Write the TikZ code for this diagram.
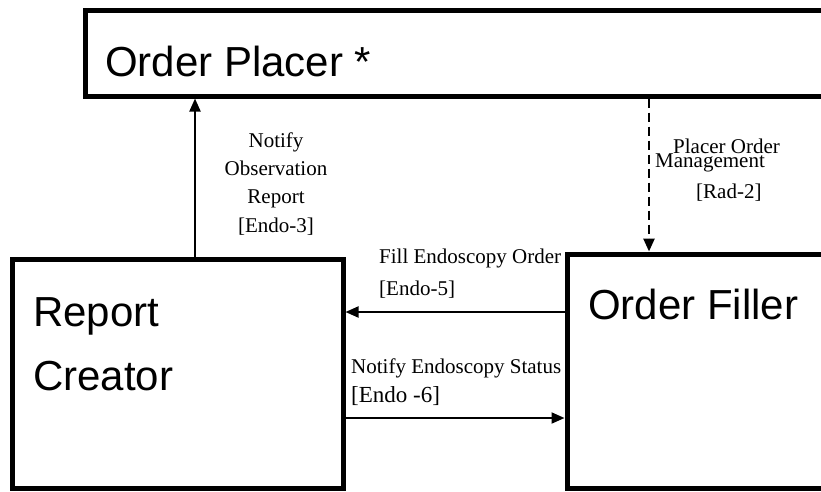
\documentclass[tikz,border=0pt]{standalone}
\usepackage{fontspec}
\setmainfont{Liberation Serif}
\newfontfamily\arialf{Liberation Sans}
\usetikzlibrary{arrows.meta}
\tikzset{
  box/.style={draw, line width=5pt, outer sep=2.5pt, inner sep=0pt, anchor=north west},
  big/.style={font=\arialf\fontsize{42}{50}\selectfont, inner sep=0pt, anchor=base west},
  small/.style={font=\fontsize{21}{25}\selectfont, inner sep=0pt, anchor=base west},
  smallc/.style={font=\fontsize{21}{25}\selectfont, inner sep=0pt, anchor=base},
  arr/.style={line width=2pt, -{Triangle[length=13pt,width=11pt]}},
  darr/.style={line width=2.5pt, dash pattern=on 9pt off 5pt, -{Triangle[length=13pt,width=11pt]}}
}
\begin{document}
\begin{tikzpicture}[x=1pt,y=1pt]
\clip (0,0) rectangle (821,-491);
\fill[white] (0,0) rectangle (821,-491);
% boxes
\node[box, minimum width=815pt, minimum height=86pt] (placer) at (82.5,-7.5) {};
\node[box, minimum width=331pt, minimum height=229pt] (rc) at (9.5,-256.5) {};
\node[box, minimum width=333pt, minimum height=234pt] (of) at (564.5,-251.5) {};
% box texts
\node[big] (tplacer) at (105,-76) {Order Placer *};
\node[big] (trc1) at (33,-326) {Report};
\node[big] (trc2) at (33,-390) {Creator};
\node[big] (tof) at (588,-319) {Order Filler};
% connector x / y positions
\coordinate (xa) at (195,0);
\coordinate (xb) at (649,0);
\coordinate (ya) at (0,-312);
\coordinate (yb) at (0,-418);
% connectors
\draw[arr] (xa |- rc.north) -- (xa |- placer.south);
\draw[darr] (xb |- placer.south) -- (xb |- of.north);
\draw[arr] (of.west |- ya) -- (rc.east |- ya);
\draw[arr] (rc.east |- yb) -- (of.west |- yb);
% labels
\node[smallc] (l1a) at (276,-147) {Notify};
\node[smallc] (l1b) at (276,-175) {Observation};
\node[smallc] (l1c) at (276,-203) {Report};
\node[smallc] (l1d) at (276,-232) {[Endo-3]};
\node[small] (l2a) at (673,-153) {Placer Order};
\node[small] (l2b) at (655,-167) {Management};
\node[small] (l2c) at (696,-198) {[Rad-2]};
\node[small] (l3a) at (379,-263) {Fill Endoscopy Order};
\node[small] (l3b) at (379,-295) {[Endo-5]};
\node[small] (l4a) at (351,-373) {Notify Endoscopy Status};
\node[small, font=\fontsize{23}{27}\selectfont] (l4b) at (351,-402) {[Endo -6]};
\end{tikzpicture}
\end{document}
